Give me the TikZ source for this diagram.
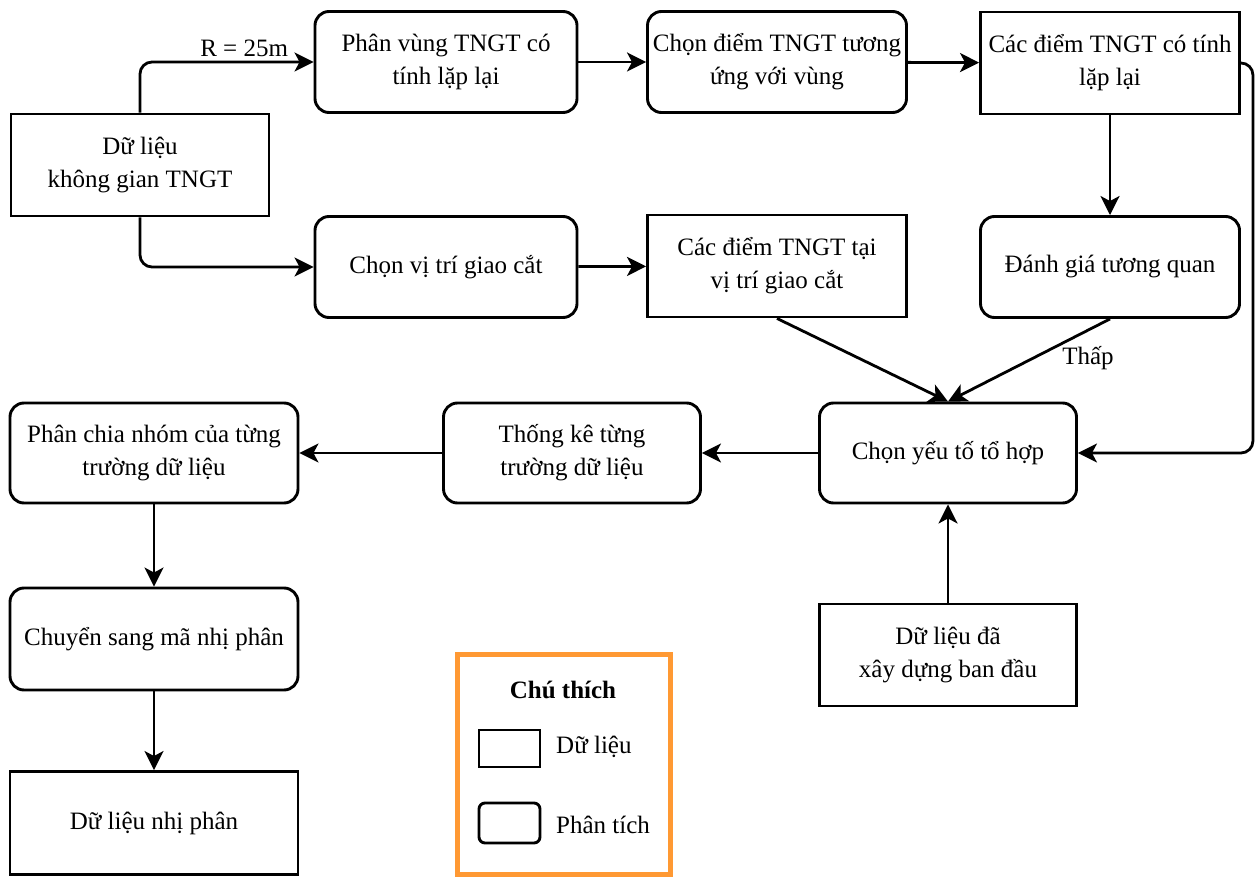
\documentclass[tikz,border=0pt]{standalone}
\usepackage{fontspec}
\setmainfont{Liberation Serif}
\usetikzlibrary{arrows.meta,calc}
\begin{document}
\begin{tikzpicture}[x=1pt,y=-1pt,
  base/.style={draw=black,line width=2.9pt,align=center,inner sep=2pt,
    font=\fontsize{25}{33}\selectfont},
  databox/.style={base},
  procbox/.style={base,rounded corners=14pt},
  link/.style={draw=black,line width=2.8pt,rounded corners=12pt,
    -{Stealth[length=19pt,width=19pt,inset=5pt]}},
  lbl/.style={font=\fontsize{25}{33}\selectfont,inner sep=1pt}
]
\useasboundingbox (0,0) rectangle (1257,877);

% data nodes (square corners)
\node[databox,minimum width=258pt,minimum height=102pt] (src) at (140,165) {Dữ liệu\\không gian TNGT};
\node[databox,minimum width=259pt,minimum height=102pt] (rep) at (1110,63) {Các điểm TNGT có tính\\lặp lại};
\node[databox,minimum width=259pt,minimum height=102pt] (inter) at (777,266) {Các điểm TNGT tại\\vị trí giao cắt};
\node[databox,minimum width=257pt,minimum height=102pt] (init) at (948,655) {Dữ liệu đã\\xây dựng ban đầu};
\node[databox,minimum width=288pt,minimum height=103pt] (bin) at (154,823) {Dữ liệu nhị phân};

% analysis nodes (rounded corners)
\node[procbox,minimum width=262pt,minimum height=101pt] (zone) at (446,62) {Phân vùng TNGT có\\tính lặp lại};
\node[procbox,minimum width=259pt,minimum height=101pt] (pick) at (777,62) {Chọn điểm TNGT tương\\ứng với vùng};
\node[procbox,minimum width=262pt,minimum height=101pt] (cross) at (446,267) {Chọn vị trí giao cắt};
\node[procbox,minimum width=259pt,minimum height=101pt] (corr) at (1110,267) {Đánh giá tương quan};
\node[procbox,minimum width=257pt,minimum height=100pt] (comb) at (948,453) {Chọn yếu tố tổ hợp};
\node[procbox,minimum width=257pt,minimum height=100pt] (stat) at (572,453) {Thống kê từng\\trường dữ liệu};
\node[procbox,minimum width=288pt,minimum height=100pt] (group) at (154,453) {Phân chia nhóm của từng\\trường dữ liệu};
\node[procbox,minimum width=288pt,minimum height=102pt] (code) at (154,639) {Chuyển sang mã nhị phân};

% connectors
\draw[link] (src.north) |- (zone.west) node[lbl,pos=0.8,above=3pt] {R = 25m};
\draw[link] (src.south) |- (cross.west);
\draw[link] (zone) -- (pick);
\draw[link] (pick) -- (rep);
\draw[link] (rep.south) -- (corr.north);
\draw[link] (rep.east) -- ++(12,0) |- (comb.east);
\draw[link] (cross) -- (inter);
\draw[link] (inter.south) -- (comb.north);
\draw[link] (corr.south) -- (comb.north);
\node[lbl] (low) at (1088,358) {Thấp};
\draw[link] (init) -- (comb);
\draw[link] (comb) -- (stat);
\draw[link] (stat) -- (group);
\draw[link] (group) -- (code);
\draw[link] (code) -- (bin);

% legend
\draw[draw={rgb,255:red,255;green,153;blue,51},line width=5pt] (457.5,654.5) rectangle (670.5,874.5);
\node[lbl,font=\fontsize{25}{33}\selectfont\bfseries] (legtitle) at (563,690) {Chú thích};
\node[draw=black,line width=2.9pt,minimum width=61pt,minimum height=37pt,inner sep=0pt] (legdata) at (509.5,748.5) {};
\node[draw=black,line width=2.9pt,rounded corners=6pt,minimum width=61pt,minimum height=40pt,inner sep=0pt] (legproc) at (509.5,823) {};
\node[lbl,anchor=west] (legdatatext) at (555,747) {Dữ liệu};
\node[lbl,anchor=west] (legproctext) at (555,825) {Phân tích};
\end{tikzpicture}
\end{document}
